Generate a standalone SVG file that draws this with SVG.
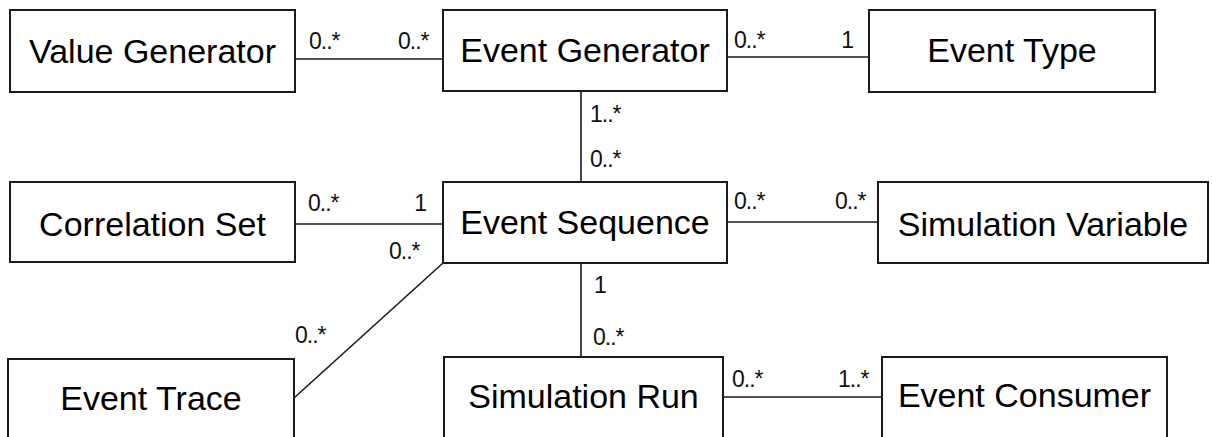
<svg xmlns="http://www.w3.org/2000/svg" width="1212" height="437" viewBox="0 0 1212 437">
<style>
.box{fill:#fff;stroke:#1a1a1a;stroke-width:2}
.name{font-family:"Liberation Sans",Arial,sans-serif;font-size:34px;fill:#000;text-anchor:middle}
.line{stroke:#1a1a1a;stroke-width:1.6;fill:none}
.m{font-family:"Liberation Sans",Arial,sans-serif;font-size:23px;fill:#111;letter-spacing:-1px}
.e{text-anchor:end}
</style>
<rect width="1212" height="437" fill="#fff"/>
<g id="connectors">
<line class="line" x1="295" y1="59" x2="443" y2="59"/>
<line class="line" x1="727" y1="57" x2="869" y2="57"/>
<line class="line" x1="581" y1="91" x2="581" y2="182"/>
<line class="line" x1="295" y1="224" x2="443" y2="224"/>
<line class="line" x1="727" y1="222" x2="878" y2="222"/>
<line class="line" x1="294" y1="398" x2="443" y2="263"/>
<line class="line" x1="581" y1="263" x2="581" y2="357"/>
<line class="line" x1="723" y1="397" x2="882" y2="397"/>
<text class="m" x="309" y="49">0..*</text>
<text class="m" x="398" y="49">0..*</text>
<text class="m" x="734" y="48">0..*</text>
<text class="m e" x="853" y="48">1</text>
<text class="m" x="590" y="122">1..*</text>
<text class="m" x="590" y="167">0..*</text>
<text class="m" x="308" y="211">0..*</text>
<text class="m e" x="426" y="211">1</text>
<text class="m" x="389" y="259">0..*</text>
<text class="m" x="734" y="209">0..*</text>
<text class="m" x="835" y="209">0..*</text>
<text class="m" x="594" y="293">1</text>
<text class="m" x="593" y="345">0..*</text>
<text class="m" x="295" y="343">0..*</text>
<text class="m" x="732" y="387">0..*</text>
<text class="m" x="838" y="387">1..*</text>
</g>
<g id="value-generator"><rect class="box" x="10" y="10" width="285" height="82"/><text class="name" x="152.5" y="63">Value Generator</text></g>
<g id="event-generator"><rect class="box" x="443" y="10" width="284" height="81"/><text class="name" x="585" y="62">Event Generator</text></g>
<g id="event-type"><rect class="box" x="869" y="10" width="286" height="82"/><text class="name" x="1012" y="62">Event Type</text></g>
<g id="correlation-set"><rect class="box" x="10" y="182" width="285" height="80"/><text class="name" x="152.5" y="236">Correlation Set</text></g>
<g id="event-sequence"><rect class="box" x="443" y="182" width="284" height="81"/><text class="name" x="585" y="234">Event Sequence</text></g>
<g id="simulation-variable"><rect class="box" x="878" y="182" width="330" height="81"/><text class="name" x="1043" y="236">Simulation Variable</text></g>
<g id="event-trace"><rect class="box" x="8" y="359" width="286" height="100"/><text class="name" x="151" y="410">Event Trace</text></g>
<g id="simulation-run"><rect class="box" x="444" y="357" width="279" height="100"/><text class="name" x="583.5" y="408">Simulation Run</text></g>
<g id="event-consumer"><rect class="box" x="882" y="357" width="285" height="100"/><text class="name" x="1024.5" y="407">Event Consumer</text></g>
</svg>
